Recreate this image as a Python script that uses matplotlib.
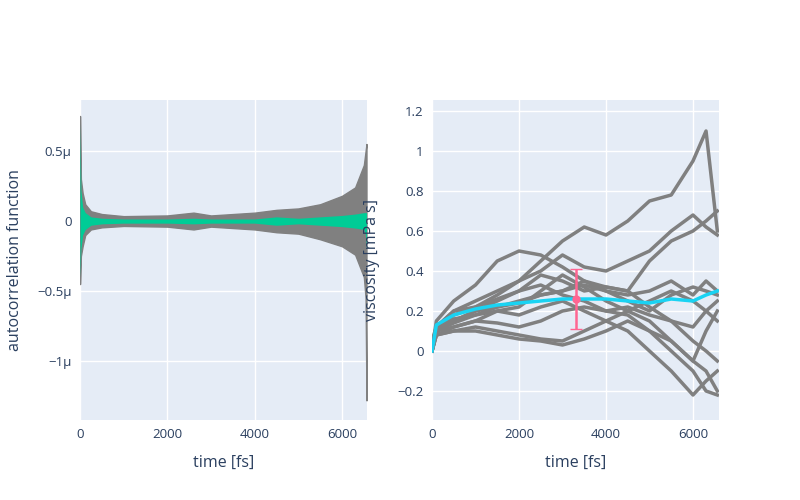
import matplotlib.pyplot as plt
from matplotlib.ticker import FixedLocator

plt.rcParams["font.family"] = "Open Sans"
INK = "#2a3f5f"
BG = "#E5ECF6"
GREY = "#808080"

# left panel: envelopes of the autocorrelation functions (units of 1e-6)
acf_t = [0, 20, 60, 120, 250, 500, 1000, 2000, 2600, 3000, 4000, 4500, 5000, 5500, 6000, 6300, 6500, 6540, 6560]
acf_grey_hi = [0.75, 0.3, 0.2, 0.12, 0.07, 0.05, 0.035, 0.04, 0.06, 0.04, 0.06, 0.08, 0.09, 0.12, 0.18, 0.24, 0.4, 0.5, 0.55]
acf_grey_lo = [-0.45, -0.25, -0.18, -0.1, -0.06, -0.045, -0.035, -0.04, -0.06, -0.04, -0.06, -0.08, -0.09, -0.13, -0.18, -0.24, -0.4, -0.55, -1.28]
acf_mean_hi = [0.7, 0.22, 0.1, 0.06, 0.03, 0.02, 0.015, 0.015, 0.02, 0.015, 0.015, 0.03, 0.02, 0.03, 0.04, 0.05, 0.06, 0.06, 0.06]
acf_mean_lo = [-0.4, -0.2, -0.1, -0.06, -0.03, -0.02, -0.015, -0.015, -0.02, -0.015, -0.015, -0.03, -0.02, -0.03, -0.04, -0.05, -0.06, -0.1, -0.2]

# right panel: running viscosity integrals per run [mPa s]
visc_t = [0, 100, 500, 1000, 1500, 2000, 2500, 3000, 3500, 4000, 4500, 5000, 5500, 6000, 6300, 6560]
visc_runs = [
    [0.0, 0.15, 0.25, 0.33, 0.45, 0.5, 0.48, 0.42, 0.35, 0.32, 0.3, 0.22, 0.15, 0.05, 0.0, -0.05],
    [0.05, 0.12, 0.2, 0.25, 0.3, 0.35, 0.45, 0.55, 0.62, 0.58, 0.65, 0.75, 0.78, 0.95, 1.1, 0.6],
    [0.05, 0.1, 0.18, 0.22, 0.28, 0.35, 0.4, 0.48, 0.42, 0.4, 0.45, 0.5, 0.6, 0.68, 0.62, 0.58],
    [0.02, 0.1, 0.15, 0.2, 0.25, 0.3, 0.38, 0.35, 0.3, 0.32, 0.3, 0.45, 0.55, 0.6, 0.65, 0.7],
    [0.0, 0.1, 0.16, 0.18, 0.22, 0.25, 0.28, 0.3, 0.35, 0.3, 0.25, 0.2, 0.28, 0.32, 0.3, 0.28],
    [0.0, 0.08, 0.12, 0.15, 0.2, 0.22, 0.3, 0.38, 0.32, 0.25, 0.2, 0.15, 0.05, -0.05, -0.1, -0.2],
    [0.0, 0.1, 0.14, 0.18, 0.2, 0.18, 0.22, 0.25, 0.2, 0.15, 0.1, 0.0, -0.1, -0.22, -0.15, -0.1],
    [0.0, 0.1, 0.12, 0.15, 0.14, 0.12, 0.15, 0.2, 0.22, 0.2, 0.18, 0.1, 0.05, -0.05, 0.1, 0.2],
    [0.0, 0.08, 0.1, 0.12, 0.1, 0.08, 0.06, 0.05, 0.1, 0.15, 0.2, 0.25, 0.3, 0.25, 0.2, 0.25],
    [0.0, 0.08, 0.1, 0.1, 0.08, 0.06, 0.05, 0.03, 0.06, 0.1, 0.15, 0.1, 0.0, -0.1, -0.2, -0.22],
    [0.0, 0.1, 0.15, 0.2, 0.22, 0.24, 0.28, 0.3, 0.33, 0.3, 0.28, 0.3, 0.35, 0.28, 0.35, 0.3],
    [0.0, 0.12, 0.2, 0.22, 0.26, 0.3, 0.33, 0.28, 0.25, 0.2, 0.22, 0.18, 0.15, 0.12, 0.2, 0.15],
]
visc_mean = [0.0, 0.13, 0.18, 0.21, 0.23, 0.24, 0.25, 0.26, 0.26, 0.26, 0.25, 0.24, 0.26, 0.25, 0.28, 0.3]
err_t, err_y, err_d = 3300, 0.26, 0.15


def style(ax, xlim, ylim):
    ax.set_facecolor(BG)
    for s in ax.spines.values():
        s.set_visible(False)
    ax.grid(color="white", lw=1)
    ax.set_axisbelow(True)
    ax.set_xlim(*xlim)
    ax.set_ylim(*ylim)
    ax.tick_params(length=0, colors=INK, labelsize=9.5, pad=6)
    ax.xaxis.set_major_locator(FixedLocator([0, 2000, 4000, 6000]))
    ax.set_xlabel("time [fs]", color=INK, fontsize=11.5, labelpad=10)


fig = plt.figure(figsize=(8, 5), dpi=100)
ax1 = fig.add_axes([80 / 800, 80 / 500, 287 / 800, 320 / 500])
ax2 = fig.add_axes([432 / 800, 80 / 500, 287 / 800, 320 / 500])

style(ax1, (0, 6572), (-1.42, 0.864))
ax1.fill_between(acf_t, acf_grey_lo, acf_grey_hi, color=GREY, lw=1, edgecolor=GREY)
ax1.fill_between(acf_t, acf_mean_lo, acf_mean_hi, color="#00cc96", lw=0)
ax1.yaxis.set_major_locator(FixedLocator([-1, -0.5, 0, 0.5]))
ax1.set_yticklabels(["\u22121\u03bc", "\u22120.5\u03bc", "0", "0.5\u03bc"])
ax1.set_ylabel("autocorrelation function", color=INK, fontsize=11.5)
ax1.yaxis.set_label_coords(-0.2, 0.5)

style(ax2, (0, 6598), (-0.345, 1.255))
for run in visc_runs:
    ax2.plot(visc_t, run, color=GREY, lw=2.5)
ax2.plot(visc_t, visc_mean, color="#19d3f3", lw=2.5)
ax2.errorbar([err_t], [err_y], yerr=[err_d], color="#ff6692", fmt="o", ms=5,
             capsize=4, lw=1.8)
ax2.yaxis.set_major_locator(FixedLocator([-0.2, 0, 0.2, 0.4, 0.6, 0.8, 1, 1.2]))
ax2.set_yticklabels(["\u22120.2", "0", "0.2", "0.4", "0.6", "0.8", "1", "1.2"])
ax2.set_ylabel("viscosity [mPa s]", color=INK, fontsize=11.5)
ax2.yaxis.set_label_coords(-0.18, 0.5)

fig.savefig("out.png")
